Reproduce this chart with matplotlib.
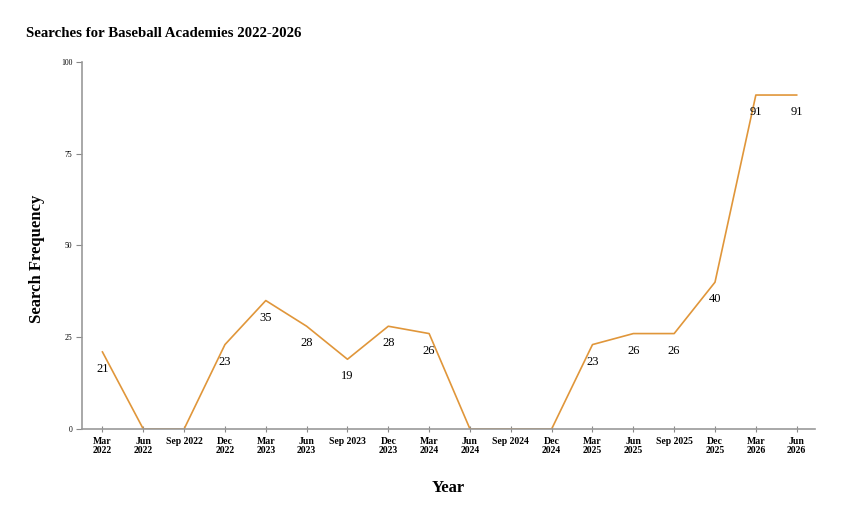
import numpy as np
import matplotlib
matplotlib.use("Agg")
import matplotlib.pyplot as plt

# quarterly search data
quarters = ["Mar\n2022", "Jun\n2022", "Sep 2022", "Dec\n2022", "Mar\n2023", "Jun\n2023",
            "Sep 2023", "Dec\n2023", "Mar\n2024", "Jun\n2024", "Sep 2024", "Dec\n2024",
            "Mar\n2025", "Jun\n2025", "Sep 2025", "Dec\n2025", "Mar\n2026", "Jun\n2026"]
searches = [21, 0, 0, 23, 35, 28, 19, 28, 26, 0, 0, 0, 23, 26, 26, 40, 91, 91]

plt.rcParams['font.family'] = ['Liberation Serif', 'DejaVu Serif']

fig = plt.figure(figsize=(8.42, 5.21), dpi=100)
ax = fig.add_axes([0.0974, 0.1766, 0.8706, 0.7044])

x = np.arange(len(quarters))
ax.plot(x, searches, color='#E0963A', linewidth=1.2)

for xi, v in zip(x, searches):
    if v > 0:
        ax.annotate(str(v), (xi, v), xytext=(0, -8), textcoords='offset points',
                    ha='center', va='top', fontsize=9)

ax.set_xlim(-0.5, 17.45)
ax.set_ylim(0, 100)
ax.set_xticks(x)
ax.set_xticklabels(quarters, fontsize=7, fontweight='bold', linespacing=1.0)
ax.set_yticks([0, 25, 50, 75, 100])
ax.tick_params(axis='y', labelsize=5.5, length=4, color='#888888', pad=3)
ax.tick_params(axis='x', length=4, color='#888888', pad=4, direction='inout')

for s in ['top', 'right']:
    ax.spines[s].set_visible(False)
for s in ['left', 'bottom']:
    ax.spines[s].set_color('#999999')
    ax.spines[s].set_linewidth(1.2)

ax.set_xlabel("Year", fontsize=12, fontweight='bold', labelpad=18)
ax.set_ylabel("Search Frequency", fontsize=12, fontweight='bold')
ax.yaxis.set_label_coords(-0.051, 0.465)
fig.text(0.031, 0.935, "Searches for Baseball Academies 2022-2026", fontsize=10.7,
         fontweight='bold', ha='left', va='center')

fig.savefig("out.png", dpi=100)
